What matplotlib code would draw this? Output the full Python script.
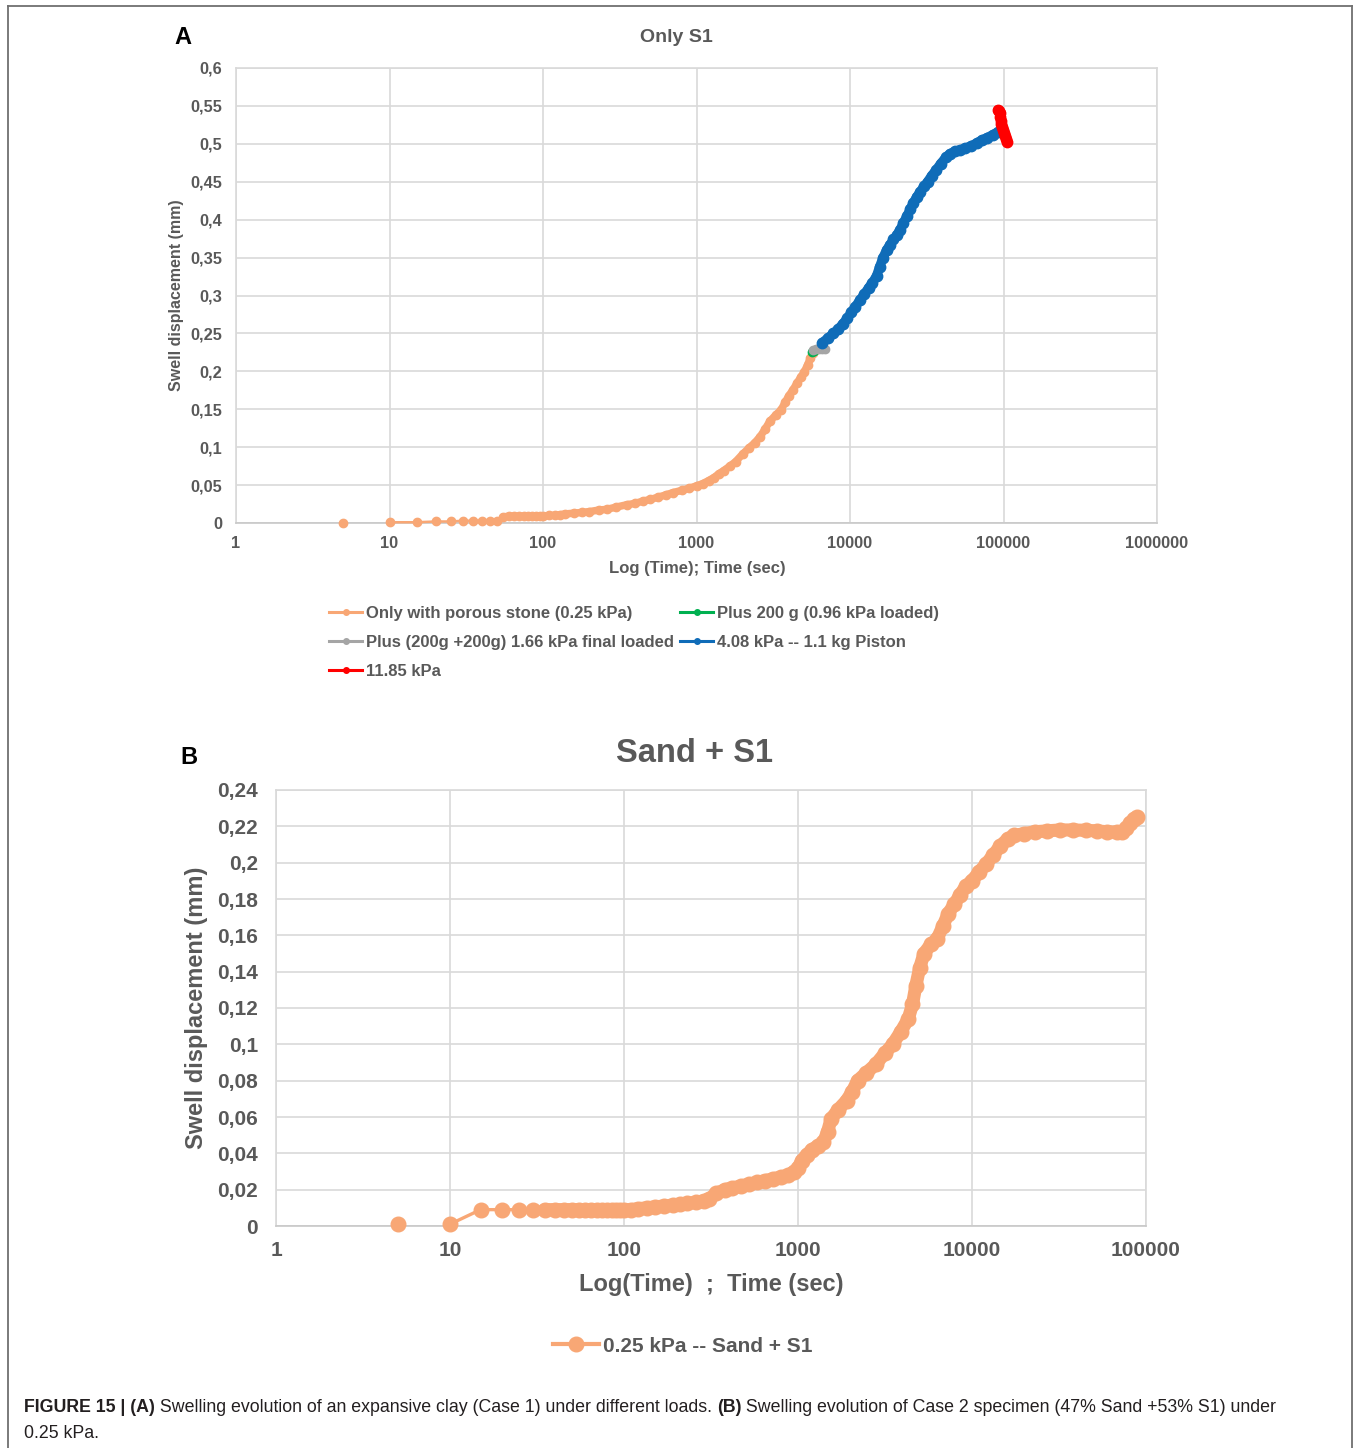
import numpy as np
import matplotlib
matplotlib.use('Agg')
import matplotlib.pyplot as plt
from matplotlib.ticker import FixedLocator, FuncFormatter, NullLocator
from matplotlib.lines import Line2D

plt.rcParams['font.family'] = ['Liberation Sans', 'DejaVu Sans']

# ---- panel A: only S1 ----
a_orange_t = [5, 10, 15, 20, 25, 30, 35, 40, 45, 50,
              55, 60, 65, 70, 75, 80, 85, 90, 95, 100,
              110, 120, 130, 140, 160, 180, 200, 230, 260, 300,
              350, 400, 450, 500, 560, 630, 700, 800, 900, 1000,
              1100, 1200, 1300, 1400, 1500, 1650, 1800, 2000, 2200, 2400,
              2600, 2800, 3000, 3300, 3550, 3800, 4000, 4230, 4500, 4800,
              5030, 5300, 5500, 5700]
a_orange_v = [0, 0.001, 0.001, 0.002, 0.002, 0.003, 0.003, 0.003, 0.003, 0.003,
              0.008, 0.009, 0.009, 0.009, 0.009, 0.009, 0.009, 0.009, 0.009, 0.009,
              0.010, 0.010, 0.011, 0.012, 0.013, 0.014, 0.015, 0.017, 0.018, 0.021,
              0.024, 0.026, 0.029, 0.031, 0.034, 0.037, 0.040, 0.043, 0.046, 0.049,
              0.052, 0.056, 0.060, 0.065, 0.069, 0.075, 0.081, 0.091, 0.099, 0.106,
              0.114, 0.124, 0.134, 0.143, 0.149, 0.160, 0.168, 0.175, 0.184, 0.193,
              0.199, 0.209, 0.217, 0.224]
a_green_t = [5650, 5800]
a_green_v = [0.225, 0.227]
a_gray_t = [5750, 6000, 6300, 6600, 6900]
a_gray_v = [0.228, 0.229, 0.229, 0.229, 0.229]
a_blue_t = [6600, 7200, 7800, 8400, 9000, 9600, 10200, 10800, 11600, 12400,
            13200, 14000, 14900, 15600, 16400, 17300, 18200, 19200, 20200, 21200,
            22300, 23500, 24700, 25800, 27200, 28700, 30300, 32000, 34000, 36500,
            39000, 42000, 44800, 48000, 52000, 56000, 61000, 66800, 72000, 78000,
            85000, 92500]
a_blue_v = [0.238, 0.244, 0.250, 0.256, 0.263, 0.270, 0.278, 0.285, 0.294, 0.302,
            0.310, 0.317, 0.326, 0.338, 0.350, 0.360, 0.367, 0.374, 0.380, 0.387,
            0.396, 0.405, 0.414, 0.422, 0.430, 0.437, 0.444, 0.450, 0.458, 0.466,
            0.474, 0.482, 0.487, 0.490, 0.492, 0.494, 0.497, 0.501, 0.505, 0.508,
            0.512, 0.516]
a_red_t = [92000, 93500, 95000, 95500, 96000, 96500, 97500, 99000, 101000, 102500, 104000, 105000]
a_red_v = [0.545, 0.543, 0.540, 0.535, 0.530, 0.526, 0.522, 0.518, 0.514, 0.510, 0.506, 0.503]
a_labels = ['Only with porous stone (0.25 kPa)', 'Plus 200 g (0.96 kPa loaded)',
            'Plus (200g +200g) 1.66 kPa final loaded', '4.08 kPa -- 1.1 kg Piston', '11.85 kPa']
a_xticks = [1, 10, 100, 1000, 10000, 100000, 1000000]
a_yticks = [0, 0.05, 0.1, 0.15, 0.2, 0.25, 0.3, 0.35, 0.4, 0.45, 0.5, 0.55, 0.6]

# ---- panel B: sand + S1 ----
b_t = [5, 10, 15, 20, 25, 30, 35, 40, 45, 50,
       55, 60, 65, 70, 75, 80, 85, 90, 95, 100,
       110, 120, 135, 150, 170, 190, 210, 230, 260, 290,
       310, 340, 380, 420, 470, 520, 580, 650, 720, 800,
       880, 950, 1000, 1050, 1120, 1200, 1300, 1400, 1480, 1550,
       1700, 1900, 2050, 2200, 2450, 2800, 3150, 3500, 3900, 4300,
       4550, 4750, 5000, 5300, 5800, 6300, 6800, 7300, 7900, 8500,
       9200, 10000, 11000, 12000, 13200, 14500, 16000, 17500, 20000, 23000,
       27000, 32000, 38000, 45000, 52000, 60000, 68000, 73000, 77000, 81000,
       85000, 89000]
b_v = [0.001, 0.001, 0.009, 0.009, 0.009, 0.009, 0.009, 0.009, 0.009, 0.009,
       0.009, 0.009, 0.009, 0.009, 0.009, 0.009, 0.009, 0.009, 0.009, 0.009,
       0.009, 0.0095, 0.010, 0.0105, 0.011, 0.0115, 0.012, 0.0125, 0.013, 0.014,
       0.015, 0.018, 0.020, 0.021, 0.022, 0.023, 0.024, 0.025, 0.026, 0.027,
       0.028, 0.030, 0.032, 0.036, 0.039, 0.042, 0.044, 0.046, 0.052, 0.059,
       0.064, 0.069, 0.074, 0.080, 0.084, 0.089, 0.095, 0.100, 0.107, 0.114,
       0.122, 0.132, 0.142, 0.150, 0.155, 0.158, 0.165, 0.172, 0.177, 0.182,
       0.187, 0.190, 0.195, 0.199, 0.204, 0.209, 0.213, 0.215, 0.216, 0.217,
       0.2175, 0.218, 0.218, 0.2178, 0.2175, 0.217, 0.2168, 0.217, 0.219, 0.222,
       0.224, 0.225]
b_label = '0.25 kPa -- Sand + S1'
b_xticks = [1, 10, 100, 1000, 10000, 100000]
b_yticks = [0, 0.02, 0.04, 0.06, 0.08, 0.1, 0.12, 0.14, 0.16, 0.18, 0.2, 0.22, 0.24]

caption1 = [('FIGURE 15 | (A)', True), (' Swelling evolution of an expansive clay (Case 1) under different loads. ', False),
            ('(B)', True), (' Swelling evolution of Case 2 specimen (47% Sand +53% S1) under', False)]
caption2 = [('0.25 kPa.', False)]

W, H = 1356, 1448
fig = plt.figure(figsize=(W / 100, H / 100), dpi=100)


def fx(px):
    return px / W


def fy(py):
    return 1 - py / H


txt_c = '#595959'
grid_c = '#d9d9d9'
orange = '#f8a775'
green = '#00b050'
gray = '#a5a5a5'
blue = '#0f6cb8'
red = '#ff0000'


def comma(v, pos):
    return f'{round(v, 3):g}'.replace('.', ',')


def style(ax, xt, yt, fs, xpad, ypad):
    ax.set_xscale('log')
    ax.set_xlim(xt[0], xt[-1])
    ax.set_ylim(yt[0], yt[-1])
    ax.xaxis.set_major_locator(FixedLocator(xt))
    ax.xaxis.set_minor_locator(NullLocator())
    ax.xaxis.set_major_formatter(FuncFormatter(lambda v, p: f'{int(round(v))}'))
    ax.yaxis.set_major_locator(FixedLocator(yt))
    ax.yaxis.set_major_formatter(FuncFormatter(comma))
    ax.grid(True, color=grid_c, lw=1.2)
    ax.set_axisbelow(True)
    for s in ax.spines.values():
        s.set_color(grid_c)
        s.set_linewidth(1.2)
    ax.spines['bottom'].set_color('#c8c8c8')
    ax.tick_params(length=0, labelsize=fs, labelcolor=txt_c)
    ax.tick_params(axis='x', pad=xpad)
    ax.tick_params(axis='y', pad=ypad)
    for lab in ax.get_xticklabels() + ax.get_yticklabels():
        lab.set_fontweight('bold')


def series(ax, t, v, color, ms, lw, dense_from=0, lone_first=False):
    # excel-style line with markers; the dense part looks like one thick band
    start = 1 if lone_first else 0
    if lone_first:
        ax.plot(t[:1], v[:1], 'o', color=color, ms=ms, clip_on=False, zorder=3)
    ax.plot(t[start:], v[start:], '-o', color=color, ms=ms, lw=lw, clip_on=False, zorder=3)
    ax.plot(t[dense_from:], v[dense_from:], '-', color=color, lw=ms * 0.9,
            solid_capstyle='round', solid_joinstyle='round', clip_on=False, zorder=3)


# panel A
axa = fig.add_axes([fx(236), fy(523), fx(1157) - fx(236), fy(68) - fy(523)])
style(axa, a_xticks, a_yticks, 11.8, 9, 10)
ms_a, lw_a = 6, 1.8
series(axa, a_orange_t, a_orange_v, orange, ms_a, lw_a, dense_from=10, lone_first=True)
series(axa, a_green_t, a_green_v, green, ms_a, lw_a)
series(axa, a_gray_t, a_gray_v, gray, ms_a, lw_a)
series(axa, a_blue_t, a_blue_v, blue, ms_a + 1.5, lw_a)
series(axa, a_red_t, a_red_v, red, ms_a + 1.5, lw_a)

fig.text(fx(183), fy(38), 'A', fontsize=17, fontweight='bold', ha='center', va='center')
fig.text(fx(676), fy(37), 'Only S1', fontsize=14, fontweight='bold', color=txt_c, ha='center', va='center')
fig.text(fx(697), fy(569), 'Log (Time); Time (sec)', fontsize=12, fontweight='bold', color=txt_c,
         ha='center', va='center')
fig.text(fx(176), fy(295), 'Swell displacement (mm)', fontsize=11.5, fontweight='bold', color=txt_c,
         ha='center', va='center', rotation=90)

a_colors = [orange, green, gray, blue, red]
a_handles = [Line2D([], [], color=c, marker='o', ms=4, lw=2.2) for c in a_colors]
order = [0, 2, 4, 1, 3]
fig.legend([a_handles[i] for i in order], [a_labels[i] for i in order],
           loc='upper left', bbox_to_anchor=(fx(329), fy(606)), ncol=2, frameon=False,
           prop={'size': 12, 'weight': 'bold'}, labelcolor=txt_c, handlelength=2.0,
           handletextpad=0.2, columnspacing=0.38, labelspacing=0.85,
           borderaxespad=0, borderpad=0)

# panel B
axb = fig.add_axes([fx(276), fy(1226), fx(1146) - fx(276), fy(790) - fy(1226)])
style(axb, b_xticks, b_yticks, 15, 11, 13)
ms_b, lw_b = 10.5, 2.4
series(axb, b_t, b_v, orange, ms_b, lw_b, dense_from=6, lone_first=True)

fig.text(fx(189), fy(757), 'B', fontsize=17, fontweight='bold', ha='center', va='center')
fig.text(fx(695), fy(754), 'Sand + S1', fontsize=23.5, fontweight='bold', color=txt_c, ha='center', va='center')
fig.text(fx(711), fy(1285), 'Log(Time)  ;  Time (sec)', fontsize=17, fontweight='bold', color=txt_c,
         ha='center', va='center')
fig.text(fx(197), fy(1008), 'Swell displacement (mm)', fontsize=17, fontweight='bold', color=txt_c,
         ha='center', va='center', rotation=90)
fig.legend([Line2D([], [], color=orange, marker='o', ms=ms_b, lw=3)], [b_label],
           loc='center', bbox_to_anchor=(fx(683), fy(1346)), frameon=False,
           prop={'size': 15, 'weight': 'bold'}, labelcolor=txt_c, handlelength=2.2,
           handletextpad=0.2, borderaxespad=0, borderpad=0)

# border around figure panel
for xs, ys in [([8, 8], [6, H]), ([8, 1352], [6, 6]), ([1352, 1352], [6, H])]:
    fig.add_artist(Line2D([fx(x) for x in xs], [fy(y) for y in ys], color='#707070', lw=1.3))

# caption, mixed bold / regular pieces
r = fig.canvas.get_renderer()
for pieces, y0 in [(caption1, 1407), (caption2, 1433)]:
    x = 24
    for s, bold in pieces:
        t = fig.text(fx(x), fy(y0), s, fontsize=12.82, fontweight='bold' if bold else 'normal',
                     color='#231f20', ha='left', va='center')
        x += t.get_window_extent(renderer=r).width

fig.savefig('out.png', dpi=100)
